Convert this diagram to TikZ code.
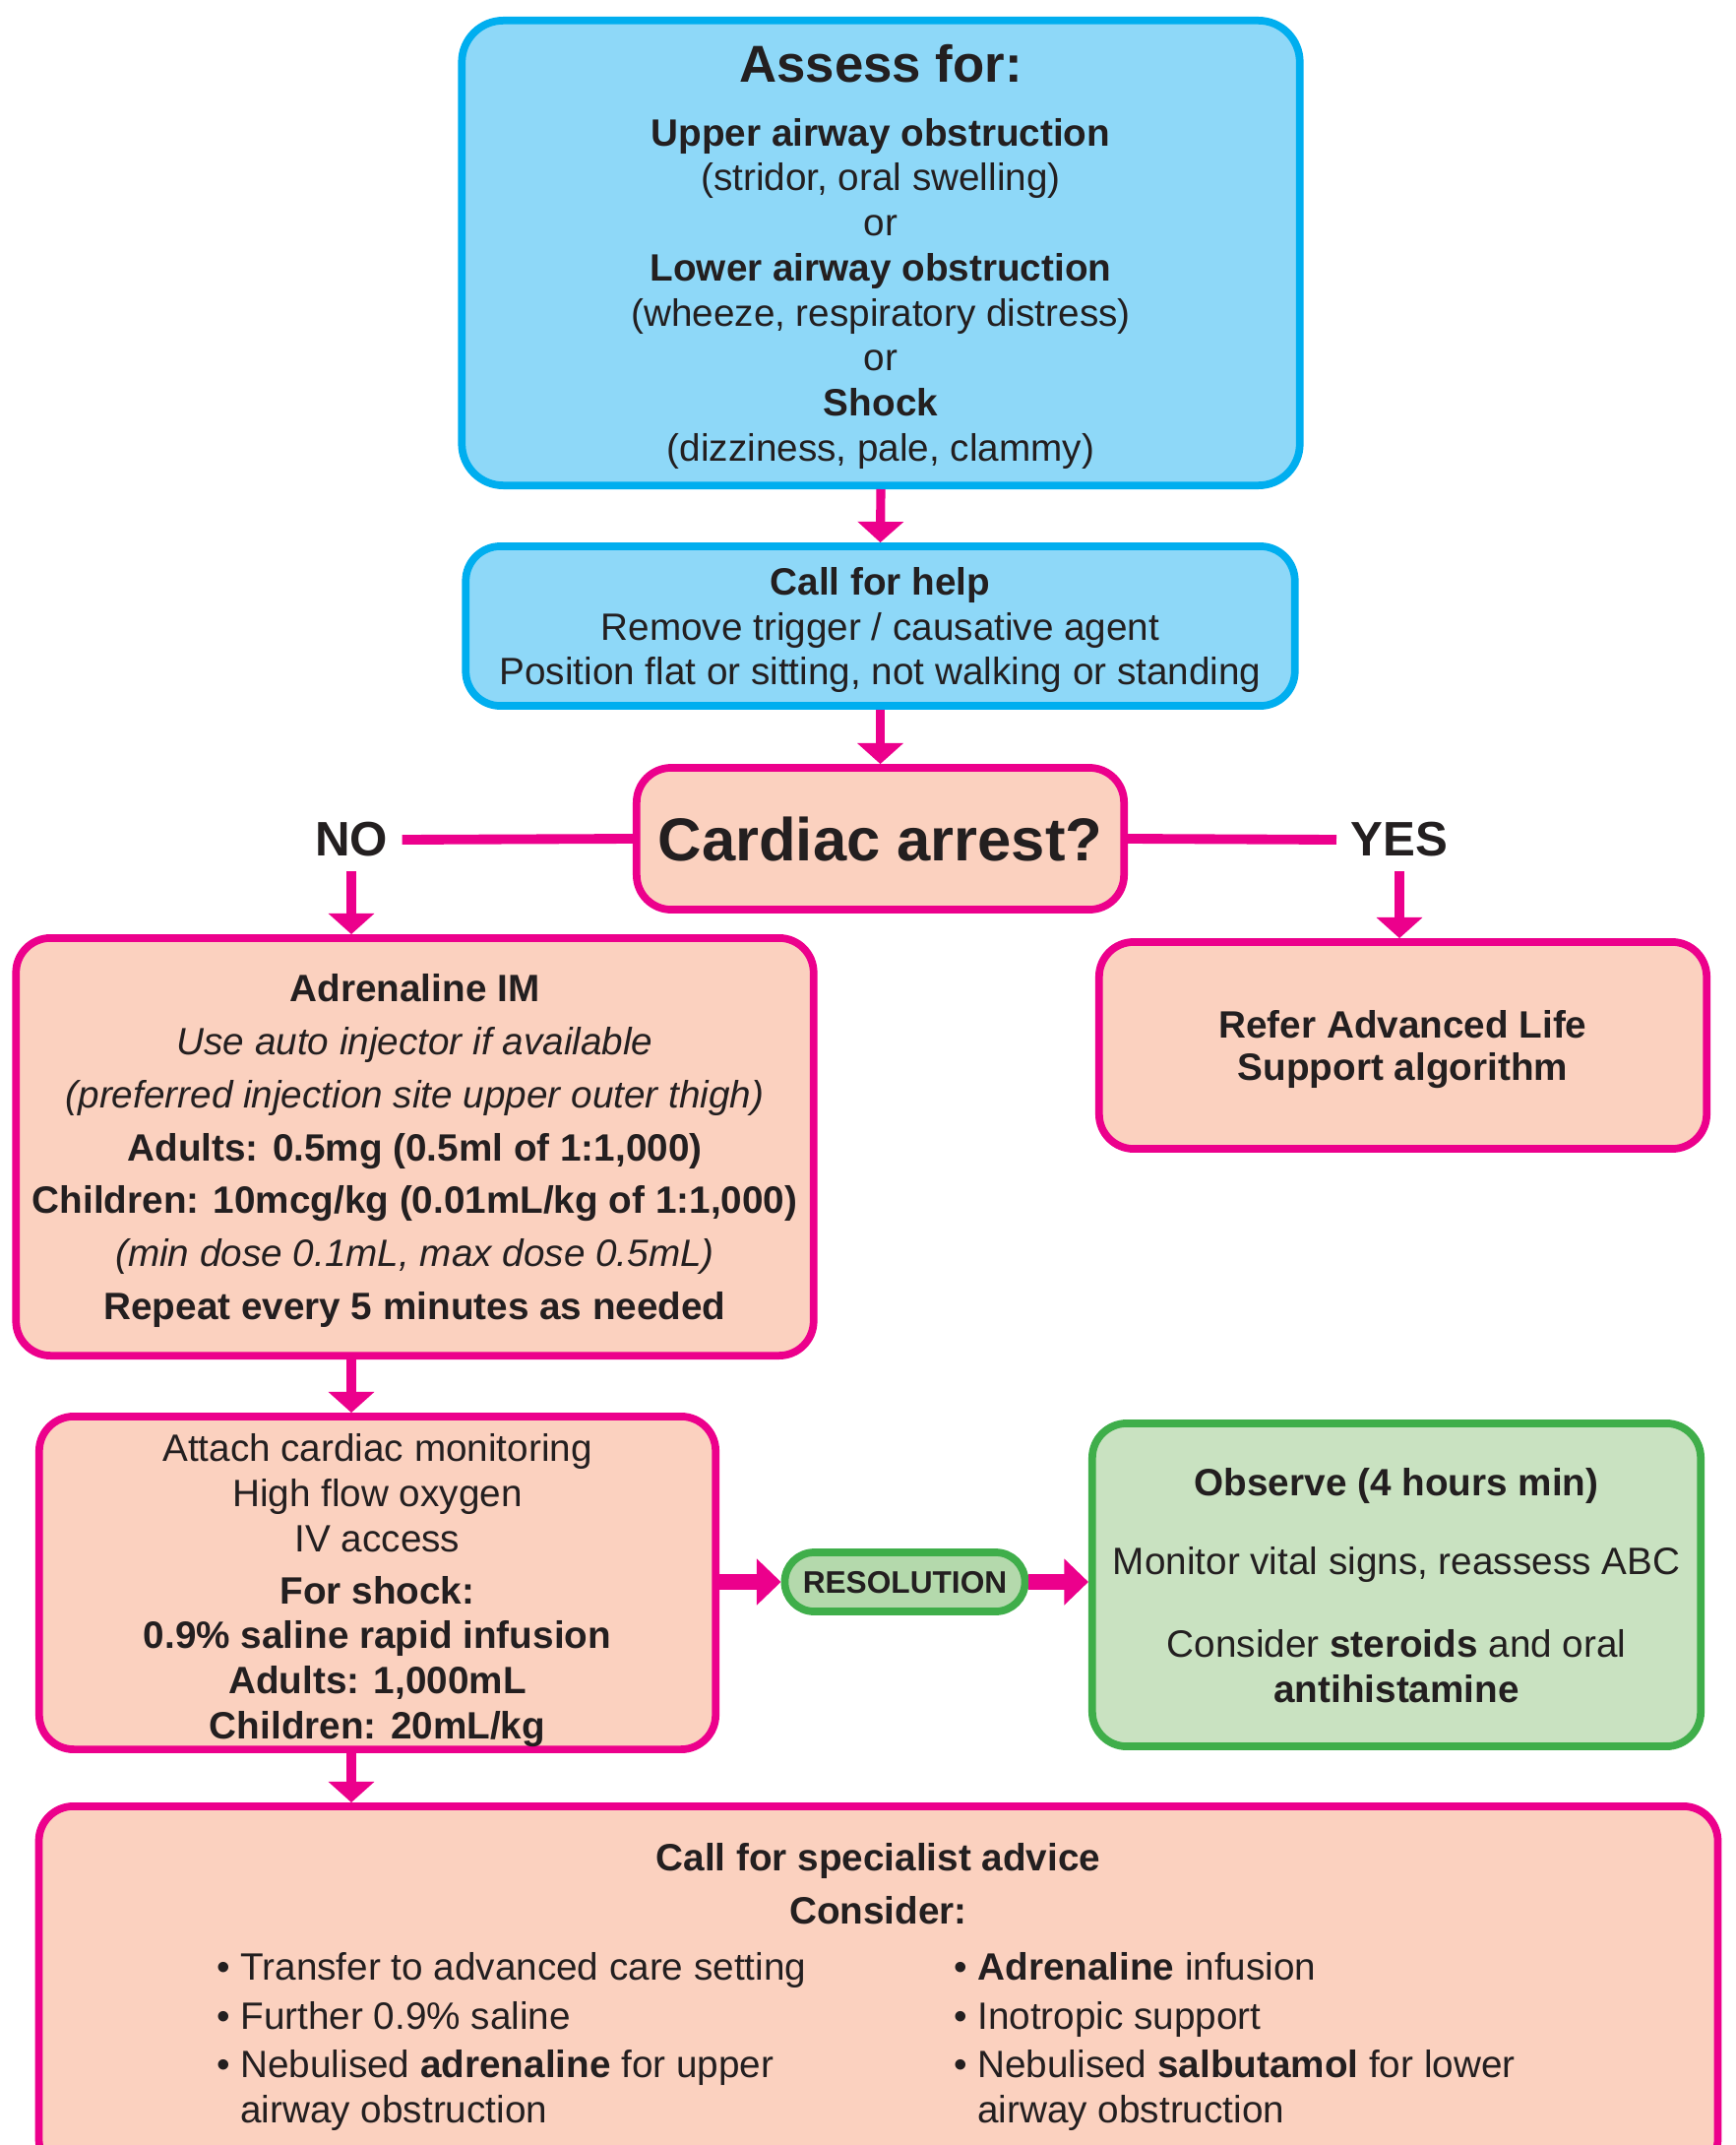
\documentclass[tikz,border=0pt]{standalone}
\usepackage{fontspec}
\setmainfont{Liberation Sans}
\usepackage{tikz}
\usetikzlibrary{arrows.meta}

\definecolor{alertpink}{HTML}{EC008C}
\definecolor{skyfill}{HTML}{8ED8F8}
\definecolor{skyline}{HTML}{00AEEF}
\definecolor{peach}{HTML}{FBD1BF}
\definecolor{leaf}{HTML}{C9E2C1}
\definecolor{leafdark}{HTML}{B4D9AC}
\definecolor{leafline}{HTML}{3FAE4A}
\definecolor{ink}{HTML}{231F20}

\newcommand{\bodysize}{\fontsize{11}{13}\selectfont}

\begin{document}
\begin{tikzpicture}[x=0.01cm, y=-0.01cm,
    >={Triangle[width=13pt,length=6pt]},
    card/.style={draw, rounded corners=10pt, line width=2.2pt, align=center,
        inner sep=0pt, text=ink, text depth=0pt, font=\bodysize},
    bluecard/.style={card, draw=skyline, fill=skyfill},
    pinkcard/.style={card, draw=alertpink, fill=peach},
    greencard/.style={card, draw=leafline, fill=leaf},
    answer/.style={inner sep=4pt, text=ink, font=\fontsize{14}{16}\selectfont\bfseries},
    flow/.style={draw=alertpink, line width=2.6pt, ->},
    branch/.style={draw=alertpink, line width=2.8pt},
    bigflow/.style={draw=alertpink, line width=4.3pt, -{Triangle[width=13pt,length=7pt]}}
]

\useasboundingbox (0,0) rectangle (1764,2179);
\clip (0,0) rectangle (1764,2179);

%%% boxes

    \node[bluecard, rounded corners=12pt, minimum width=8.51cm, minimum height=4.72cm] (assess) at (895,257) {%
        {\fontsize{15}{18}\selectfont\bfseries Assess for:}\\[5.3pt]
        \textbf{Upper airway obstruction}\\
        (stridor, oral swelling)\\
        or\\
        \textbf{Lower airway obstruction}\\
        (wheeze, respiratory distress)\\
        or\\
        \textbf{Shock}\\
        (dizziness, pale, clammy)};

    \node[bluecard, minimum width=8.42cm, minimum height=1.62cm] (help) at (894.5,636) {%
        \textbf{Call for help}\\
        Remove trigger / causative agent\\
        Position flat or sitting, not walking or standing};

    \node[pinkcard, minimum width=4.95cm, minimum height=1.44cm,
        font=\fontsize{17.5}{21}\selectfont\bfseries] (arrest) at (894.5,852) {Cardiac arrest?};

    \node[answer] (no) at (357,853) {NO};
    \node[answer] (yes) at (1422,853) {YES};

    \node[pinkcard, minimum width=8.10cm, minimum height=4.24cm,
        font=\fontsize{11}{15.3}\selectfont] (adren) at (421.5,1165) {%
        \textbf{Adrenaline IM}\\
        \textit{Use auto injector if available}\\
        \textit{(preferred injection site upper outer thigh)}\\
        \textbf{Adults: 0.5mg (0.5ml of 1:1,000)}\\
        \textbf{Children: 10mcg/kg (0.01mL/kg of 1:1,000)}\\
        \textit{(min dose 0.1mL, max dose 0.5mL)}\\
        \textbf{Repeat every 5 minutes as needed}};

    \node[pinkcard, minimum width=6.17cm, minimum height=2.10cm,
        font=\fontsize{11}{12.3}\selectfont\bfseries] (als) at (1425.5,1062) {%
        Refer Advanced Life\\
        Support algorithm};

    \node[pinkcard, minimum width=6.87cm, minimum height=3.38cm] (monitor) at (383.5,1608) {%
        \rule{0pt}{10pt}Attach cardiac monitoring\\
        High flow oxygen\\
        IV access\\[2pt]
        \textbf{For shock:}\\
        \textbf{0.9\% saline rapid infusion}\\
        \textbf{Adults: 1,000mL}\\
        \textbf{Children: 20mL/kg}};

    \node[greencard, fill=leafdark, rounded corners=8.5pt, minimum width=2.44cm, minimum height=0.60cm,
        font=\fontsize{9}{11}\selectfont\bfseries] (resol) at (919.5,1607) {RESOLUTION};

    \node[greencard, minimum width=6.18cm, minimum height=3.28cm] (observe) at (1419,1610) {%
        \textbf{Observe (4 hours min)}\\[10pt]
        Monitor vital signs, reassess ABC\\[10.7pt]
        Consider \textbf{steroids} and oral\\
        \textbf{antihistamine}};

    \node[pinkcard, text depth={}, minimum width=17.05cm, minimum height=3.73cm] (special) at (892.5,2021.5) {%
        \textbf{Call for specialist advice}\\[2.4pt]
        \textbf{Consider:}\\[3.2pt]
        \begin{tabular}[t]{@{}p{213pt}@{}l@{}}
            • Transfer to advanced care setting & • \textbf{Adrenaline} infusion\\[1pt]
            • Further 0.9\% saline & • Inotropic support\\[1.2pt]
            • Nebulised \textbf{adrenaline} for upper & • Nebulised \textbf{salbutamol} for lower\\
            \phantom{• }airway obstruction & \phantom{• }airway obstruction
        \end{tabular}\kern7.2pt};

%%% connectors

    \coordinate (lane) at (no.south);

    \draw[flow] (assess.south) -- (help.north);
    \draw[flow] (help.south) -- (arrest.north);
    \draw[branch] (arrest.west) -- (no.east);
    \draw[branch] (arrest.east) -- (yes.west);
    \draw[flow] (no.south) -- (no.south |- adren.north);
    \draw[flow] (yes.south) -- (yes.south |- als.north);
    \draw[flow] (lane |- adren.south) -- (lane |- monitor.north);
    \draw[flow] (lane |- monitor.south) -- (lane |- special.north);
    \draw[bigflow] (monitor.east |- resol.west) -- (resol.west);
    \draw[bigflow] (resol.east) -- (resol.east -| observe.west);

\end{tikzpicture}
\end{document}
